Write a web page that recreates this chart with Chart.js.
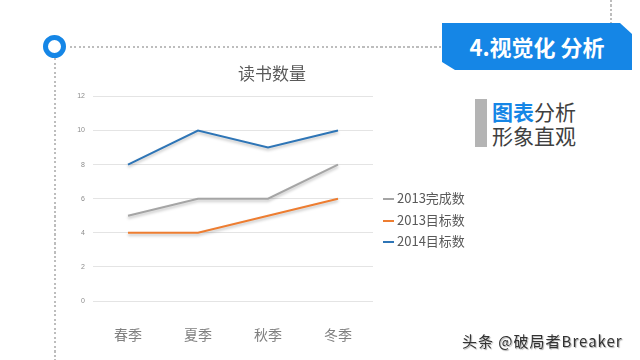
<!DOCTYPE html>
<html>
<head>
<meta charset="utf-8">
<script src="https://cdn.jsdelivr.net/npm/chart.js@4"></script>
<style>
  body { margin: 0; width: 640px; height: 360px; background: #fff; position: relative; overflow: hidden;
         font-family: "Noto Sans CJK SC", "Noto Sans", sans-serif; }
  .dots-h { position: absolute; height: 2px;
            background: repeating-linear-gradient(to right, #bdbdbd 0 2px, transparent 2px 4.5px); }
  .dots-v { position: absolute; width: 2px;
            background: repeating-linear-gradient(to bottom, #bdbdbd 0 2px, transparent 2px 4.5px); }
  #ring { position: absolute; left: 43px; top: 35px; width: 13px; height: 13px;
          border: 5.5px solid #1586e6; border-radius: 50%; background: #fff; }
  #banner { position: absolute; left: 442px; top: 23px; width: 190px; height: 47px; background: #1586e6;
            clip-path: polygon(0 0, 178px 0, 190px 11px, 190px 47px, 13px 47px, 0 39px);
            color: #fff; font-weight: bold; font-size: 22px; line-height: 47px; text-align: center; }
  #note { position: absolute; left: 475px; top: 99px; border-left: 12px solid #b4b4b4; padding-left: 5px;
          font-size: 21px; line-height: 24px; color: #404040; }
  #note b { color: #1586e6; }
  #legend { position: absolute; left: 383px; top: 187px; font-size: 13px; color: #595959; }
  #legend div { height: 21.5px; line-height: 21.5px; white-space: nowrap; }
  #legend span { display: inline-block; width: 11px; height: 2px; margin-right: 3px; vertical-align: middle; }
  #mark { position: absolute; left: 462px; top: 330px; font-size: 15px; color: #333; letter-spacing: 1px;
          text-shadow: 1px 1px 1px #aaa; }
  #box { position: absolute; left: 64px; top: 56px; width: 416px; height: 292px; }
</style>
</head>
<body>
<div class="dots-v" style="left:610px; top:0; height:23px;"></div>
<div class="dots-h" style="left:70px; top:46px; width:372px;"></div>
<div class="dots-v" style="left:54px; top:58px; height:302px;"></div>
<div id="ring"></div>
<div id="banner">4.视觉化 分析</div>
<div id="note"><b>图表</b>分析<br>形象直观</div>
<div id="box"><canvas id="readChart"></canvas></div>
<div id="legend"></div>
<div id="mark">头条 @破局者Breaker</div>

<script>
const seasons = ['春季', '夏季', '秋季', '冬季'];
const done2013 = [5, 6, 6, 8];
const target2013 = [4, 4, 5, 6];
const target2014 = [8, 10, 9, 10];
const seriesNames = ['2013完成数', '2013目标数', '2014目标数'];
const seriesColors = ['#a5a5a5', '#ed7d31', '#2e75b6'];

// soft drop shadow under each line, like the office chart
const lineShadow = {
  id: 'lineShadow',
  beforeDatasetDraw(chart) {
    const ctx = chart.ctx;
    ctx.save();
    ctx.shadowColor = 'rgba(0,0,0,0.25)';
    ctx.shadowBlur = 3;
    ctx.shadowOffsetY = 2;
  },
  afterDatasetDraw(chart) {
    chart.ctx.restore();
  }
};

function makeSet(i, values) {
  return {
    label: seriesNames[i],
    data: values,
    borderColor: seriesColors[i],
    backgroundColor: seriesColors[i],
    borderWidth: 2,
    pointRadius: 0,
    tension: 0
  };
}

function buildLegend(chart) {
  const box = document.getElementById('legend');
  box.innerHTML = '';
  chart.data.datasets.forEach(d => {
    const row = document.createElement('div');
    row.innerHTML = `<span style="background:${d.borderColor}"></span>${d.label}`;
    box.appendChild(row);
  });
}

const ctx = document.getElementById('readChart').getContext('2d');
const chart = new Chart(ctx, {
  type: 'line',
  data: {
    labels: seasons,
    datasets: [makeSet(0, done2013), makeSet(1, target2013), makeSet(2, target2014)]
  },
  options: {
    responsive: true,
    maintainAspectRatio: false,
    animation: false,
    plugins: {
      legend: { display: false },
      tooltip: { enabled: false },
      title: {
        display: true,
        text: '读书数量',
        color: '#595959',
        font: { size: 17, family: '"Noto Sans CJK SC", sans-serif', weight: 'normal' },
        padding: { top: 7, bottom: 13 }
      }
    },
    scales: {
      x: {
        offset: true,
        grid: { display: false },
        border: { display: false },
        ticks: { color: '#7f7f7f', padding: 17, font: { size: 14, family: '"Noto Sans CJK SC", sans-serif' } },
        afterFit(s) { s.height = 47; }
      },
      y: {
        min: 0,
        max: 12,
        ticks: { stepSize: 2, color: '#8c8c8c', padding: 8, font: { size: 7 } },
        grid: { color: '#e4e4e4', drawTicks: false },
        border: { display: false },
        afterFit(s) { s.width = 29; }
      },
      // empty right-hand strip where the legend sits, so the title centres over the whole chart
      side: {
        position: 'right',
        grid: { display: false },
        border: { display: false },
        ticks: { display: false },
        afterFit(s) { s.width = 107; }
      }
    }
  },
  plugins: [lineShadow]
});

buildLegend(chart);
</script>
</body>
</html>
